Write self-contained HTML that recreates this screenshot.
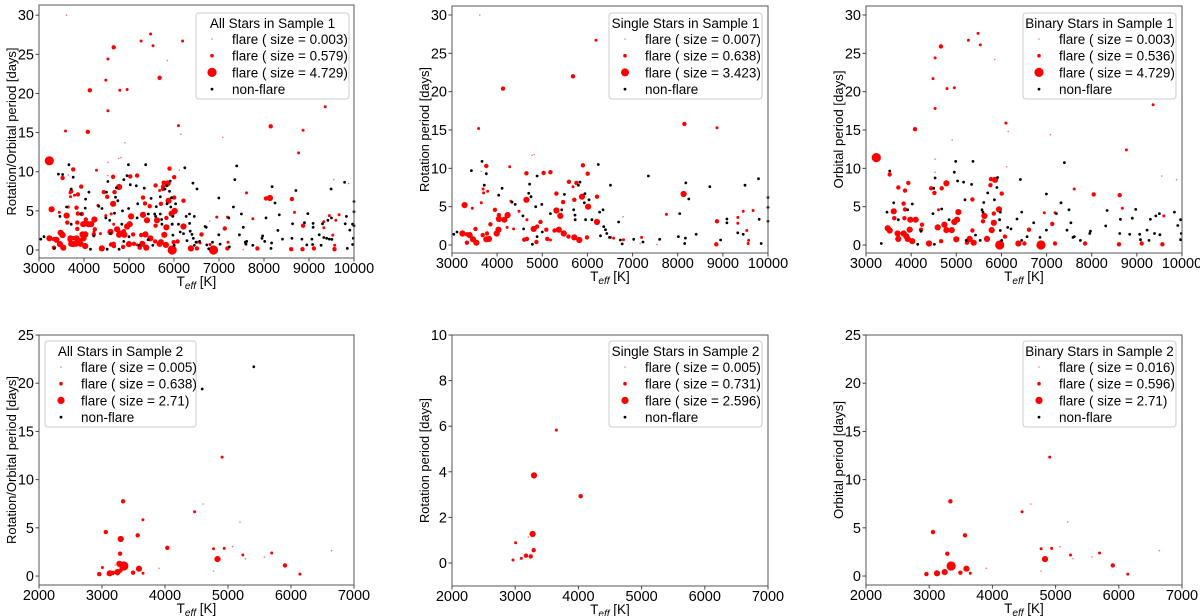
<!DOCTYPE html>
<html><head><meta charset="utf-8">
<style>
html,body{margin:0;padding:0;background:#fff;}
svg{display:block;font-family:"Liberation Sans","DejaVu Sans",sans-serif;}
</style></head>
<body>
<svg id="fig" width="1200" height="616" viewBox="0 0 1200 616" xmlns="http://www.w3.org/2000/svg"></svg>
<script>
// ---------- DATA: [Teff, period, sizeClass] ----------
const singleS1Flare = [
[3613,30,0],[6190,26.7,1],[5681,22.0,2],[4130,20.4,2],[3590,15.2,1],[8148,15.8,2],[8870,15.3,1],
[3760,10.3,2],[3650,9.6,0],[5900,10.4,2],[6005,9.3,2],[4647,9.35,2],[5030,9.4,2],[5180,9.5,2],
[4278,10.2,1],[4772,11.7,0],[4820,11.8,0],[3690,7.3,1],[3700,6.8,1],[3790,7.0,1],[5756,8.1,2],
[5590,8.25,2],[5680,7.6,1],[3280,5.2,3],[3450,4.8,1],[3650,5.5,1],[3950,4.6,2],[4040,3.9,2],
[4040,3.4,3],[4232,3.9,3],[4485,4.4,1],[4308,5.7,1],[4647,5.9,3],[5312,4.5,3],[5460,5.6,2],
[5710,5.9,2],[5880,6.3,3],[6015,5.0,3],[6212,6.3,2],[5312,6.7,2],[5400,3.8,3],[6212,3.0,3],
[3230,1.5,3],[3330,1.4,2],[3390,1.3,3],[3465,0.75,3],[3540,0.3,3],[3330,0.3,2],[3680,1.3,2],
[3760,0.75,3],[3820,0.8,3],[3775,1.5,2],[3990,1.5,3],[4030,2.0,3],[3520,2.1,2],[3850,2.7,2],
[4160,3.3,3],[4810,2.1,3],[4885,2.4,2],[4960,3.0,2],[5090,2.0,2],[5270,1.9,2],[5365,2.0,3],
[5475,1.5,3],[5580,1.1,2],[5710,1.0,3],[5820,0.65,3],[5990,1.0,2],[4660,0.8,2],[4870,0.4,2],
[5110,0.8,2],[5180,0.65,1],[4600,0.7,2],[4660,3.3,1],[4365,2.1,1],[4220,2.3,1],[7750,4.0,1],
[8130,6.65,3],[8870,3.1,2],[8855,0.1,2],[9330,2.85,1],[9530,1.9,1],[9560,0.2,1],[9450,4.4,1],
[9670,4.5,1],[9330,3.6,1],[9570,0.6,1],[6510,1.0,1],[6580,0.9,1],[7020,0.65,0],[7170,0.2,0],
[7540,0.05,0],[7580,0.7,0],[6800,0.7,1],[6790,3.7,0],[7200,1.0,1]];
const singleS1Non = [
[3040,1.4],[3110,1.7],[3430,9.7],[3665,10.9],[3760,9.3],[3715,7.8],[4035,6.5],[4110,7.4],
[4330,5.6],[4400,5.3],[4570,3.8],[4585,2.1],[4700,6.75],[4720,7.95],[4750,6.3],[4855,5.0],
[4885,9.0],[4990,5.3],[5000,1.7],[4780,0.1],[4885,1.1],[5180,4.1],[5430,4.6],[5490,6.6],
[5696,4.6],[5725,3.9],[5800,7.8],[5835,8.2],[5930,5.5],[5945,6.7],[5730,3.3],[6035,5.9],
[5960,3.3],[6240,10.5],[6270,4.3],[6345,4.6],[6510,7.8],[6100,3.3],[6290,1.2],[6360,2.4],
[6400,2.0],[6430,1.5],[6490,1.0],[6690,3.0],[6730,0.65],[6770,0.15],[7025,0.75],[7230,0.4],
[7350,9.0],[7600,0.75],[8015,1.1],[8045,4.1],[8180,8.1],[8245,6.0],[8170,0.9],[8155,0.2],
[8410,1.4],[8710,7.6],[8950,0.65],[9090,3.4],[9090,2.9],[9330,1.6],[9450,1.4],[9490,7.8],
[9790,8.65],[9805,3.35],[9850,0.2],[10000,6.2],[10000,4.9],[10000,3.1]];
const binaryS1Flare = [
[5481,27.6,1],[4660,25.9,2],[5268,26.7,1],[5533,26.1,1],[4530,24.4,1],[5850,24.2,0],
[4485,21.7,1],[4795,20.4,1],[4957,20.5,1],[4530,17.8,1],[4085,15.1,2],[6100,15.9,1],
[6150,14.8,0],[4910,13.7,0],[7084,14.4,0],[8768,12.4,1],[9360,18.3,1],[3229,11.4,4],
[3524,9.2,2],[4530,11.2,0],[4530,9.5,0],[4780,8.05,3],[3938,8.1,2],[3716,7.5,2],[3864,7.1,2],
[4441,7.4,2],[4515,6.8,2],[4677,7.4,2],[5770,8.6,2],[5858,8.5,3],[5755,7.8,2],[6005,6.7,2],
[5947,4.65,3],[5830,4.1,2],[5356,5.95,2],[5046,4.3,3],[4605,4.6,1],[3613,4.4,3],[3628,3.5,2],
[3834,5.4,2],[3864,4.65,2],[3850,3.5,2],[3982,3.3,3],[4100,3.3,3],[3480,2.2,3],[3524,1.9,3],
[3701,1.5,3],[3716,0.8,3],[3834,1.5,3],[3893,1.15,3],[3967,2.0,3],[3923,0.8,3],[4026,0.5,3],
[4218,2.0,2],[4240,2.65,2],[4396,0.2,3],[4588,2.3,3],[4736,2.65,3],[4780,1.95,3],[4898,1.95,3],
[4957,3.0,3],[5016,3.3,3],[5000,0.75,3],[4664,0.5,2],[5296,0.8,3],[5356,1.9,2],[5385,0.3,3],
[5237,0.3,2],[5592,3.1,2],[5622,3.8,3],[5784,1.95,3],[5830,2.9,3],[5681,0.8,3],[5961,0.0,4],
[6080,1.1,2],[6376,0.2,3],[6508,0.2,2],[6611,2.0,2],[6877,0.0,4],[7128,2.75,2],[7187,0.2,2],
[8044,6.6,2],[8620,6.5,2],[7853,0.2,2],[8605,0.1,2],[9108,0.2,2],[9566,0.1,2],[9596,3.8,1],
[7190,4.2,1],[7612,7.3,1],[8678,4.8,1],[9550,9.0,0],[9880,8.5,0],[6120,10.2,0],[6950,4.2,1]];
const binaryS1Non = [
[3340,0.2],[3613,5.5],[3465,4.3],[3524,9.65],[3716,3.3],[3923,4.6],[4026,5.35],[4145,0.1],
[4218,1.8],[4515,0.1],[4530,8.75],[4500,7.4],[4485,4.1],[4677,4.7],[4840,3.3],[4957,9.5],
[4987,10.9],[5030,8.35],[5163,8.2],[5340,7.9],[5370,10.9],[5193,5.9],[5220,0.6],[5425,1.3],
[5530,0.6],[5570,4.6],[5590,4.3],[5607,5.55],[5696,6.8],[5845,5.9],[5900,7.5],[5915,8.8],
[5975,4.3],[5960,3.3],[5975,1.9],[6005,0.6],[6138,2.3],[6212,2.1],[6346,3.4],[6420,8.55],
[6450,4.3],[6450,0.6],[6568,1.1],[6715,2.9],[6855,1.0],[6996,6.65],[6996,1.95],[7320,5.5],
[7394,10.75],[7217,4.1],[7497,4.6],[7453,1.95],[7540,2.9],[7585,1.0],[7615,1.1],[7750,0.6],
[7956,1.5],[7970,1.8],[8310,2.5],[8340,4.5],[8635,3.35],[8620,1.5],[8842,1.4],[8900,3.5],
[8974,4.65],[9064,1.4],[9080,0.7],[9226,1.95],[9270,0.6],[9300,3.35],[9390,1.5],[9420,3.8],
[9500,4.1],[9510,1.35],[9832,4.3],[9906,2.55],[9970,3.3],[9985,1.5],[9970,0.7]];
const singleS2Flare = [
[2965,0.13,1],[3007,0.89,1],[3097,0.2,1],[3171,0.32,2],[3208,1.14,0],[3245,0.29,2],
[3276,1.27,3],[3292,0.56,2],[3297,3.84,3],[3650,5.83,1],[4036,2.93,2]];
const binaryS2Flare = [
[2955,0.2,2],[3060,4.56,2],[3124,0.28,3],[3245,0.41,3],[3287,2.32,2],[3335,7.75,2],
[3346,1.04,4],[3493,0.35,2],[3567,4.22,2],[3588,0.76,3],[3651,0.28,1],[3905,0.8,0],
[4470,6.67,1],[4607,7.47,0],[4770,2.84,1],[4770,0.52,0],[4833,1.76,3],[4907,12.34,1],
[4939,2.87,1],[5071,3.04,0],[5190,5.6,0],[5235,2.18,1],[5276,1.8,0],[5577,1.97,0],
[5694,2.39,1],[5905,1.1,2],[6142,0.2,1],[6643,2.63,0]];
const allS2Non = [[4590,19.4],[5409,21.7]];
const allS1Flare = singleS1Flare.concat(binaryS1Flare);
const allS1Non = singleS1Non.concat(binaryS1Non);
const allS2Flare = singleS2Flare.concat(binaryS2Flare);
const xTicksS1 = [3000,4000,5000,6000,7000,8000,9000,10000];
const xTicksS2 = [2000,3000,4000,5000,6000,7000];
const yTicks30 = [0,5,10,15,20,25,30];
const yTicks25 = [0,5,10,15,20,25];
const yTicks10 = [0,2,4,6,8,10];
const legendTitles = ["All Stars in Sample 1","Single Stars in Sample 1","Binary Stars in Sample 1","All Stars in Sample 2","Single Stars in Sample 2","Binary Stars in Sample 2"];
const legendSizes = [["0.003","0.579","4.729"],["0.007","0.638","3.423"],["0.003","0.536","4.729"],["0.005","0.638","2.71"],["0.005","0.731","2.596"],["0.016","0.596","2.71"]];

// ---------- DRAW ----------
const NS="http://www.w3.org/2000/svg";
const svg=document.getElementById('fig');
const R=[0.8,1.5,2.2,3.1,4.6];
function mk(tag,attrs,parent){const e=document.createElementNS(NS,tag);for(const k in attrs)e.setAttribute(k,attrs[k]);(parent||svg).appendChild(e);return e;}

const panels=[
 {id:'all-s1',L:39,Rt:354,T:5,B:258,x0:3000,x1:10000,y0:-1.02,y1:31.3,xt:xTicksS1,yt:yTicks30,yl:'Rotation/Orbital period [days]',yll:168,flare:allS1Flare,non:allS1Non,lg:{x:196,y:13,w:153},big:4.6},
 {id:'single-s1',L:452,Rt:768,T:6,B:253,x0:3000,x1:10000,y0:-1.04,y1:31.17,xt:xTicksS1,yt:yTicks30,yl:'Rotation period [days]',yll:125,flare:singleS1Flare,non:singleS1Non,lg:{x:609,y:13,w:153},big:4},
 {id:'binary-s1',L:866,Rt:1182,T:6,B:253,x0:3000,x1:10000,y0:-1.04,y1:31.17,xt:xTicksS1,yt:yTicks30,yl:'Orbital period [days]',yll:118,flare:binaryS1Flare,non:binaryS1Non,lg:{x:1023,y:13,w:153},big:4.6},
 {id:'all-s2',L:39,Rt:354,T:335,B:585,x0:2000,x1:7000,y0:-0.93,y1:25,xt:xTicksS2,yt:yTicks25,yl:'Rotation/Orbital period [days]',yll:168,flare:allS2Flare,non:allS2Non,lg:{x:45,y:341,w:151},big:3.6},
 {id:'single-s2',L:452,Rt:768,T:335,B:586,x0:2000,x1:7000,y0:-1.01,y1:10,xt:xTicksS2,yt:yTicks10,yl:'Rotation period [days]',yll:125,flare:singleS2Flare,non:[],lg:{x:609,y:341,w:153},big:3.6},
 {id:'binary-s2',L:866,Rt:1182,T:335,B:585,x0:2000,x1:7000,y0:-0.93,y1:25,xt:xTicksS2,yt:yTicks25,yl:'Orbital period [days]',yll:118,flare:binaryS2Flare,non:[],lg:{x:1023,y:341,w:153},big:3.6}
];

panels.forEach((p,i)=>{
 const g=mk('g',{});
 
 
 const sx=v=>p.L+(v-p.x0)/(p.x1-p.x0)*(p.Rt-p.L);
 const sy=v=>p.B-(v-p.y0)/(p.y1-p.y0)*(p.B-p.T);
 const pts=mk('g',{},g);
 
 
 p.flare.forEach(d=>{
  const c=mk('circle',{cx:sx(d[0]).toFixed(1),cy:sy(d[1]).toFixed(1),r:R[d[2]],fill:d[2]===0?'#ff7070':'#ff0000'},pts);
  
  
 });
 p.non.forEach(d=>{
  const c=mk('circle',{cx:sx(d[0]).toFixed(1),cy:sy(d[1]).toFixed(1),r:1.4,fill:'#000'},pts);
  
  
 });
 const fr=mk('rect',{x:p.L,y:p.T,width:p.Rt-p.L,height:p.B-p.T,fill:'none',stroke:'#555','stroke-width':1},g);
 
 
 p.xt.forEach(v=>{
  const x=sx(v);
  mk('line',{x1:x,x2:x,y1:p.B,y2:p.B+3.5,stroke:'#444'},g);
  const t=mk('text',{x:x,y:p.B+15,'text-anchor':'middle','font-size':14.5,fill:'#000'},g);
  t.textContent=v;
  
  
 });
 p.yt.forEach(v=>{
  const y=sy(v);
  mk('line',{x1:p.L-3.5,x2:p.L,y1:y,y2:y,stroke:'#444'},g);
  const t=mk('text',{x:p.L-5,y:y+5,'text-anchor':'end','font-size':14.5,fill:'#000'},g);
  t.textContent=v;
  
  
 });
 const xt=mk('text',{x:(p.L+p.Rt)/2,y:p.B+28,'text-anchor':'middle','font-size':13.5,fill:'#000'},g);
 
 
 xt.appendChild(document.createTextNode('T'));
 const sub=mk('tspan',{'font-style':'italic','font-size':10,dy:3},xt); sub.textContent='eff';
 const rest=mk('tspan',{dy:-3},xt); rest.textContent=' [K]';
 const cy=(p.T+p.B)/2, yx=p.L-23;
 const yt=mk('text',{x:yx,y:cy,'text-anchor':'middle','font-size':13,fill:'#000',textLength:p.yll,lengthAdjust:'spacingAndGlyphs',transform:`rotate(-90 ${yx} ${cy})`},g);
 yt.textContent=p.yl;
 
 
 const lg=mk('g',{},g);
 
 
 const L=p.lg;
 mk('rect',{x:L.x,y:L.y,width:L.w,height:86,rx:3,fill:'#fff','fill-opacity':0.85,stroke:'#ccc'},lg);
 const tt=mk('text',{x:L.x+L.w/2,y:L.y+15,'text-anchor':'middle','font-size':13.5,fill:'#000'},lg);
 tt.textContent=legendTitles[i];
 
 
 const labels=legendSizes[i].map(s=>'flare ( size = '+s+')').concat(['non-flare']);
 const mr=[0.8,1.8,p.big,1.4];
 labels.forEach((lab,k)=>{
  const ry=L.y+26+k*16.7;
  mk('circle',{cx:L.x+16,cy:ry,r:mr[k],fill:k===3?'#000':(k===0?'#ff7070':'#ff0000')},lg);
  const e=mk('text',{x:L.x+36,y:ry+5,'font-size':13.5,fill:'#000'},lg);
  e.textContent=lab;
  
  
 });
});
</script>
</body></html>
